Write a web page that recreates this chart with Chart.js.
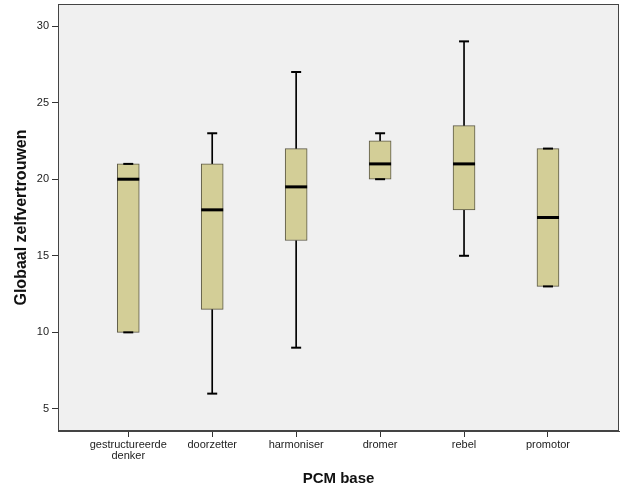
<!DOCTYPE html>
<html>
<head>
<meta charset="utf-8">
<script src="https://cdn.jsdelivr.net/npm/chart.js@4/dist/chart.umd.min.js"></script>
<style>
  html, body { margin: 0; padding: 0; background: #ffffff; }
  #wrap { width: 626px; height: 501px; }
</style>
</head>
<body>
<div id="wrap"><canvas id="boxChart" width="626" height="501"></canvas></div>
<script>
// PCM base groups and their box plot statistics (Globaal zelfvertrouwen)
const categories = [['gestructureerde', 'denker'], 'doorzetter', 'harmoniser', 'dromer', 'rebel', 'promotor'];
const minima  = [10, 6, 9, 20, 15, 13];
const q1      = [10, 11.5, 16, 20, 18, 13];
const medians = [20, 18, 19.5, 21, 21, 17.5];
const q3      = [21, 21, 22, 22.5, 23.5, 22];
const maxima  = [21, 23, 27, 23, 29, 22];
const yTicks  = [5, 10, 15, 20, 25, 30];

const pos = categories.map((c, i) => i + 1);

// background + frame of the plot area
const plotFrame = {
    id: 'plotFrame',
    beforeDraw(chart) {
        const { ctx, chartArea: a } = chart;
        ctx.save();
        ctx.fillStyle = '#f0f0f0';
        ctx.fillRect(a.left, a.top, a.right - a.left, a.bottom - a.top);
        ctx.restore();
    },
    afterDraw(chart) {
        const { ctx, chartArea: a } = chart;
        ctx.save();
        ctx.strokeStyle = '#444444';
        ctx.lineWidth = 1;
        ctx.strokeRect(Math.round(a.left) + 0.5, Math.round(a.top) + 0.5,
            Math.round(a.right - a.left) - 1, Math.round(a.bottom - a.top) - 1);
        ctx.restore();
    }
};

const ctx = document.getElementById('boxChart').getContext('2d');

new Chart(ctx, {
    type: 'bar',
    data: {
        datasets: [
            {
                // medians
                type: 'line',
                data: pos.map((x, i) => ({ x: x, y: medians[i] })),
                showLine: false,
                pointStyle: 'line',
                pointRadius: 11,
                pointBorderWidth: 3,
                pointBorderColor: '#000000',
                order: 0
            },
            {
                // whisker caps
                type: 'line',
                data: pos.map((x, i) => ({ x: x, y: maxima[i] }))
                    .concat(pos.map((x, i) => ({ x: x, y: minima[i] }))),
                showLine: false,
                pointStyle: 'line',
                pointRadius: 5,
                pointBorderWidth: 2,
                pointBorderColor: '#000000',
                order: 1
            },
            {
                // boxes
                data: pos.map((x, i) => ({ x: x, y: [q1[i], q3[i]] })),
                backgroundColor: '#d3ce97',
                borderColor: '#5b5845',
                borderWidth: 1,
                borderSkipped: false,
                barThickness: 22,
                grouped: false,
                order: 2
            },
            {
                // upper whiskers
                data: pos.map((x, i) => ({ x: x, y: [q3[i], maxima[i]] })),
                backgroundColor: '#000000',
                barThickness: 1,
                grouped: false,
                order: 3
            },
            {
                // lower whiskers
                data: pos.map((x, i) => ({ x: x, y: [minima[i], q1[i]] })),
                backgroundColor: '#000000',
                barThickness: 1,
                grouped: false,
                order: 3
            }
        ]
    },
    options: {
        responsive: false,
        animation: false,
        events: [],
        layout: { autoPadding: false, padding: { left: 0, top: 4, right: 7, bottom: 0 } },
        plugins: {
            legend: { display: false },
            tooltip: { enabled: false }
        },
        scales: {
            x: {
                type: 'linear',
                offset: false,
                min: 0.163,
                max: 6.846,
                afterBuildTicks: (scale) => { scale.ticks = pos.map(v => ({ value: v })); },
                afterFit: (scale) => {
                    scale.height = 70;
                    scale.paddingLeft = 0;
                    scale.paddingRight = 0;
                },
                ticks: {
                    autoSkip: false,
                    maxRotation: 0,
                    padding: 2,
                    color: '#222222',
                    font: { family: 'Liberation Sans, Arial, sans-serif', size: 11, lineHeight: 1.0 },
                    callback: (v) => categories[v - 1]
                },
                grid: {
                    offset: false,
                    drawOnChartArea: false,
                    drawTicks: true,
                    tickLength: 6,
                    color: '#333333'
                },
                border: { display: true, color: '#444444' },
                title: {
                    display: true,
                    text: 'PCM base',
                    color: '#111111',
                    font: { family: 'Liberation Sans, Arial, sans-serif', size: 15, weight: 'bold' },
                    padding: { top: 0, bottom: 13 }
                }
            },
            y: {
                min: 3.56,
                max: 31.44,
                afterBuildTicks: (scale) => { scale.ticks = yTicks.map(v => ({ value: v })); },
                afterFit: (scale) => {
                    scale.width = 58;
                    scale.paddingTop = 0;
                    scale.paddingBottom = 0;
                },
                ticks: {
                    padding: 3,
                    color: '#222222',
                    font: { family: 'Liberation Sans, Arial, sans-serif', size: 11 }
                },
                grid: {
                    drawOnChartArea: false,
                    drawTicks: true,
                    tickLength: 6,
                    color: '#333333'
                },
                border: { display: true, color: '#444444' },
                title: {
                    display: true,
                    text: 'Globaal zelfvertrouwen',
                    color: '#111111',
                    font: { family: 'Liberation Sans, Arial, sans-serif', size: 16, weight: 'bold' },
                    padding: { top: 12, bottom: 0 }
                }
            }
        }
    },
    plugins: [plotFrame]
});
</script>
</body>
</html>
